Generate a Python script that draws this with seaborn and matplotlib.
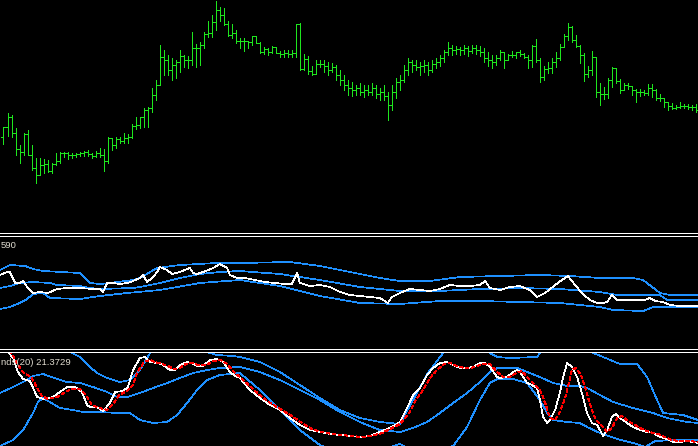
import numpy as np
import matplotlib.pyplot as plt
import seaborn as sns
from matplotlib.lines import Line2D

# Readings taken off the terminal window. Prices / indicator values are in
# chart points measured downward from the top of the window, so every pane
# uses an inverted y axis. x is the bar number (0 = oldest visible bar).

# --- price bars -----------------------------------------------------------
bar_open = [137, 127, 117, 133, 149, 152, 134, 155, 168, 175, 165, 164, 171, 164, 161, 153, 153, 155, 155, 154,
            153, 152, 154, 156, 153, 155, 161, 138, 145, 139, 141, 138, 137, 126, 125, 117, 110, 108, 95, 85,
            57, 60, 70, 65, 62, 56, 60, 60, 48, 48, 45, 34, 33, 22, 10, 15, 24, 35, 33, 41,
            41, 41, 42, 36, 43, 52, 49, 52, 47, 53, 54, 53, 54, 53, 24, 69, 59, 71, 74, 64,
            64, 66, 70, 67, 75, 80, 85, 88, 90, 88, 92, 90, 92, 88, 94, 92, 96, 105, 92, 82,
            80, 70, 62, 65, 67, 66, 65, 70, 64, 62, 58, 52, 48, 50, 49, 50, 48, 51, 48, 50,
            52, 58, 60, 62, 58, 52, 60, 55, 55, 52, 54, 57, 60, 46, 60, 77, 69, 68, 62, 58,
            47, 36, 27, 40, 46, 55, 74, 70, 57, 92, 94, 94, 80, 68, 81, 90, 85, 86, 90, 92,
            92, 93, 88, 90, 98, 98, 102, 106, 108, 107, 106, 106, 107, 107]
bar_high = [127, 113, 115, 128, 145, 133, 130, 145, 158, 158, 159, 160, 163, 153, 152, 152, 152, 153, 153, 152,
            151, 150, 153, 151, 148, 149, 137, 138, 137, 137, 133, 134, 124, 117, 117, 108, 107, 88, 80, 45,
            50, 55, 58, 60, 50, 55, 56, 32, 44, 42, 32, 21, 15, 1, 7, 8, 21, 24, 30, 38,
            38, 41, 36, 36, 42, 47, 48, 46, 47, 51, 50, 50, 50, 24, 23, 54, 56, 66, 60, 60,
            60, 62, 63, 65, 70, 75, 80, 82, 85, 83, 85, 85, 83, 85, 88, 85, 92, 85, 78, 75,
            65, 58, 60, 60, 62, 60, 62, 60, 58, 55, 50, 42, 45, 46, 47, 45, 46, 45, 45, 46,
            48, 52, 55, 55, 50, 52, 54, 51, 52, 50, 53, 55, 45, 39, 58, 66, 62, 58, 52, 44,
            34, 23, 26, 35, 45, 53, 66, 51, 57, 83, 87, 78, 67, 68, 79, 83, 83, 86, 89, 89,
            90, 84, 84, 89, 94, 98, 102, 103, 105, 102, 104, 104, 105, 104]
bar_low = [144, 136, 137, 155, 163, 155, 155, 170, 183, 175, 173, 172, 173, 165, 163, 157, 159, 158, 157, 156,
           156, 156, 158, 157, 157, 171, 163, 150, 148, 143, 143, 143, 138, 129, 128, 127, 127, 112, 100, 85,
           75, 75, 80, 78, 72, 67, 68, 65, 67, 65, 48, 37, 37, 30, 21, 25, 36, 38, 43, 48,
           51, 48, 45, 43, 53, 54, 55, 53, 53, 57, 57, 57, 57, 57, 70, 70, 74, 75, 74, 67,
           72, 75, 72, 80, 85, 90, 95, 96, 95, 95, 97, 95, 95, 98, 100, 100, 120, 110, 98, 90,
           82, 75, 72, 70, 75, 72, 75, 72, 68, 66, 62, 55, 55, 54, 55, 54, 56, 53, 54, 56,
           62, 66, 68, 65, 60, 68, 60, 57, 58, 56, 58, 68, 67, 62, 82, 80, 73, 73, 67, 60,
           47, 40, 42, 47, 63, 81, 77, 75, 97, 105, 99, 98, 87, 83, 93, 90, 89, 95, 102, 96,
           95, 95, 97, 100, 101, 107, 110, 109, 109, 108, 108, 109, 110, 112]
bar_close = [127, 117, 133, 149, 152, 134, 155, 168, 175, 165, 164, 171, 164, 161, 153, 153, 155, 155, 154, 153,
             152, 154, 156, 153, 155, 161, 138, 145, 139, 141, 138, 137, 126, 125, 117, 110, 108, 95, 85, 57,
             60, 70, 65, 62, 56, 60, 60, 48, 48, 45, 34, 33, 22, 10, 15, 24, 35, 33, 41, 41,
             41, 42, 36, 43, 52, 49, 52, 47, 53, 54, 53, 54, 53, 24, 69, 59, 71, 74, 64, 64,
             66, 70, 67, 75, 80, 85, 88, 90, 88, 92, 90, 92, 88, 94, 92, 96, 105, 92, 82, 80,
             70, 62, 65, 67, 66, 65, 70, 64, 62, 58, 52, 48, 50, 49, 50, 48, 51, 48, 50, 52,
             58, 60, 62, 58, 52, 60, 55, 55, 52, 54, 57, 60, 46, 60, 77, 69, 68, 62, 58, 47,
             36, 27, 40, 46, 55, 74, 70, 57, 92, 94, 94, 80, 68, 81, 90, 85, 86, 90, 92, 92,
             93, 88, 90, 98, 98, 102, 106, 108, 107, 106, 106, 107, 107, 110]

# --- middle pane: white line and its blue bands ------------------------------
mid_x = [-0.9, 0.9, 1.6, 2.9, 4.1, 4.9, 5.9, 7.4, 9.1, 11.1, 13.4, 15.9, 19.1, 22.4, 24.1, 24.9, 25.9, 27.4,
         29.1, 30.9, 32.4, 34.1, 34.9, 35.9, 37.4, 38.4, 39.1, 40.9, 42.1, 44.1, 46.6, 47.4, 48.4, 49.9,
         52.4, 54.1, 55.9, 56.6, 58.4, 60.4, 62.9, 65.4, 67.9, 70.4, 72.1, 73.4, 74.1, 76.6, 79.1, 81.6,
         84.1, 86.6, 89.1, 91.6, 94.1, 96.1, 97.1, 99.1, 101.6, 104.1, 106.6, 109.1, 111.6, 114.1, 116.6,
         119.1, 120.4, 121.6, 124.1, 126.6, 129.1, 131.6, 133.4, 135.4, 137.9, 139.6, 141.1, 142.9, 144.6,
         146.6, 148.4, 149.9, 150.9, 152.1, 153.4, 156.6, 160.4, 161.6, 162.9, 164.9, 166.6, 169.1, 173.6]
mid_line = [275, 272, 272, 283, 283, 281, 287, 293, 292, 293, 289, 288, 288, 289, 289, 292, 283, 283,
            284, 283, 281, 278, 275, 282, 277, 272, 267, 270, 274, 272, 268, 273, 274, 272,
            268, 264, 268, 275, 278, 278, 280, 282, 283, 284, 284, 273, 283, 286, 285, 287,
            292, 295, 296, 297, 298, 303, 297, 293, 289, 290, 291, 289, 285, 286, 286,
            285, 281, 288, 290, 287, 286, 290, 297, 293, 285, 280, 276, 285, 293,
            300, 303, 303, 302, 295, 300, 300, 300, 298, 301, 302, 305, 306, 306]

mid_up_x = [-0.9, 1.6, 5.4, 7.4, 9.9, 19.1, 21.6, 24.1, 26.6, 32.4, 34.1, 38.4, 44.1, 53.4, 59.1, 71.6,
            79.1, 86.6, 94.1, 99.1, 106.6, 114.1, 124.1, 134.1, 141.6, 149.1, 157.4, 159.9, 164.1, 166.6, 173.6]
mid_up = [270, 265, 266, 269, 271, 273, 283, 284, 283, 280, 278, 268, 265, 263, 263, 262,
          266, 272, 278, 281, 281, 277, 276, 275, 276, 278, 278, 280, 293, 295, 295]
mid_ma_x = [-0.9, 1.6, 4.1, 7.4, 11.6, 13.4, 19.1, 21.6, 24.1, 32.4, 34.1, 39.1, 44.1, 49.1, 54.1, 59.1,
            69.1, 79.1, 89.1, 99.1, 109.1, 119.1, 129.1, 139.1, 149.1, 153.4, 164.1, 165.9, 173.6]
mid_ma = [288, 286, 283, 282, 283, 285, 286, 288, 289, 288, 287, 283, 278, 274, 272, 271,
          274, 280, 287, 291, 291, 289, 288, 289, 292, 295, 295, 300, 300]
mid_lo_x = [-0.9, 1.6, 4.1, 5.9, 7.4, 9.9, 11.6, 19.1, 24.1, 30.9, 39.1, 49.1, 59.1, 69.1, 79.1, 89.1,
            99.1, 109.1, 119.1, 129.1, 139.1, 149.1, 152.4, 159.9, 162.4, 173.6]
mid_lo = [309, 307, 303, 299, 294, 293, 298, 299, 296, 293, 290, 283, 280, 286, 296, 303,
          304, 301, 301, 302, 303, 307, 310, 311, 307, 307]

# --- bottom pane: oscillator, signal and Bands(20) ---------------------------
osc_x = [-0.1, 1.1, 2.4, 3.6, 4.9, 6.6, 7.4, 8.4, 9.9, 12.4, 14.1, 15.9, 17.9, 19.6, 20.9, 21.6, 23.4,
         24.9, 26.6, 27.9, 29.9, 31.1, 32.4, 34.1, 35.4, 36.6, 38.4, 39.9, 41.6, 42.9, 44.1, 45.9,
         47.1, 48.4, 49.9, 51.6, 53.4, 54.9, 56.6, 57.9, 59.1, 61.6, 64.1, 66.6, 69.1, 71.6, 74.1,
         76.6, 79.1, 81.6, 84.1, 86.6, 89.1, 91.6, 94.1, 96.6, 97.9, 99.1, 100.9, 102.4, 104.1, 105.9,
         107.4, 109.1, 110.9, 112.4, 114.1, 115.9, 117.4, 119.1, 120.4, 121.6, 123.4, 124.1, 125.9,
         127.4, 128.4, 129.1, 130.9, 132.1, 133.4, 134.1, 134.9, 135.9, 136.6, 137.9, 139.1, 139.9,
         140.9, 142.1, 143.4, 144.6, 145.9, 147.1, 148.4, 149.1, 149.9, 150.9, 152.1, 153.1, 154.1,
         155.9, 157.4, 159.1, 160.9, 162.4, 164.1, 165.9, 167.4, 169.1, 170.9, 173.6]
osc = [345, 352, 358, 372, 379, 381, 388, 397, 399, 397, 392, 387, 387, 392, 405, 407, 407,
       411, 403, 392, 391, 387, 370, 358, 357, 362, 363, 365, 370, 370, 365, 362,
       363, 366, 366, 360, 359, 362, 372, 376, 378, 390, 398, 405, 410, 418, 425,
       430, 432, 434, 435, 436, 437, 436, 432, 428, 425, 422, 408, 395, 388, 375,
       368, 363, 362, 365, 368, 368, 367, 363, 363, 367, 377, 378, 377,
       372, 370, 372, 383, 385, 388, 400, 417, 423, 420, 410, 393, 377,
       363, 367, 377, 393, 413, 423, 425, 430, 436, 430, 417, 414, 418,
       423, 427, 430, 432, 433, 437, 439, 442, 442, 441, 443]

sig_x = [1.6, 3.6, 4.9, 7.1, 8.4, 9.6, 11.1, 13.4, 15.1, 16.9, 19.1, 20.6, 22.1, 24.1, 25.9, 27.4, 28.9,
         30.9, 32.4, 33.4, 35.1, 36.6, 37.9, 39.6, 41.1, 42.6, 44.1, 45.6, 47.1, 48.6, 50.6, 52.6,
         54.4, 55.9, 57.6, 59.1, 62.1, 64.6, 67.1, 69.6, 72.1, 74.6, 77.1, 79.6, 82.1, 84.6, 87.1,
         89.6, 92.1, 94.6, 97.1, 99.1, 101.6, 103.1, 104.9, 106.6, 108.4, 110.1, 111.6, 113.4, 115.1,
         116.9, 118.4, 120.1, 121.6, 123.4, 124.9, 126.6, 128.1, 129.6, 131.1, 132.9, 134.4, 135.6,
         136.6, 137.9, 139.1, 140.4, 141.4, 142.1, 143.1, 144.4, 145.6, 146.9, 148.1, 149.6, 150.9,
         152.1, 153.4, 154.6, 156.1, 157.9, 159.6, 161.6, 163.6, 165.4, 167.1, 169.1, 171.6, 173.6]
sig = [350, 365, 372, 378, 388, 396, 399, 397, 393, 389, 389, 395, 405, 408, 410, 404, 395,
       391, 385, 373, 362, 360, 362, 364, 366, 369, 368, 364, 363, 365, 365, 361,
       360, 364, 372, 377, 388, 397, 404, 410, 416, 423, 429, 432, 434, 435, 436,
       437, 436, 433, 428, 424, 412, 400, 390, 378, 370, 364, 363, 366, 368,
       368, 366, 364, 364, 372, 377, 377, 373, 371, 378, 385, 392, 405,
       418, 420, 412, 398, 382, 370, 368, 375, 390, 408, 420, 426, 432,
       428, 418, 416, 421, 425, 429, 432, 434, 437, 440, 441, 441, 442]

band_up_x = [-0.9, 9.1, 14.1, 16.6, 19.1, 21.6, 23.4, 25.9, 29.1, 31.6, 34.1, 35.9, 37.9, 44.1, 49.1,
             53.4, 57.4, 59.1, 64.1, 69.1, 74.1, 79.1, 84.1, 89.1, 94.1, 99.1, 102.4, 106.1, 109.9,
             114.1, 119.1, 121.6, 123.4, 126.6, 133.4, 135.4, 141.6, 147.4, 149.9, 154.1, 158.4,
             160.9, 163.4, 164.9, 169.9, 173.6]
band_up = [330, 340, 349, 352, 357, 367, 373, 378, 382, 380, 370, 358, 345, 340, 350,
           355, 356, 357, 362, 372, 385, 398, 410, 418, 422, 424, 400, 373, 353,
           340, 345, 353, 357, 358, 357, 345, 340, 353, 357, 364, 364,
           377, 400, 413, 415, 420]
band_mid_x = [-0.9, 2.4, 5.9, 7.4, 9.9, 13.4, 15.9, 19.1, 22.4, 25.9, 28.4, 30.9, 34.1, 37.4, 40.9,
              44.1, 47.4, 50.9, 54.1, 59.1, 64.1, 69.1, 74.1, 79.1, 84.1, 89.1, 94.1, 99.1, 102.4,
              105.9, 109.1, 112.4, 115.9, 119.1, 121.6, 123.4, 128.4, 130.9, 134.1, 137.4, 140.9,
              144.1, 145.9, 149.1, 152.4, 157.4, 162.4, 165.9, 170.9, 173.6]
band_mid = [393, 387, 380, 376, 374, 379, 382, 383, 387, 392, 397, 397, 393, 388, 383,
            378, 373, 370, 368, 367, 372, 380, 390, 400, 412, 422, 430, 432, 428,
            422, 413, 403, 393, 382, 372, 368, 368, 372, 377, 383, 386,
            386, 388, 395, 402, 408, 413, 418, 422, 423]
band_lo_x = [-0.9, 2.4, 4.9, 7.4, 8.6, 9.9, 14.1, 17.4, 19.9, 24.1, 28.4, 31.6, 34.1, 37.4, 40.9,
             43.4, 45.9, 48.4, 50.9, 54.1, 59.1, 64.1, 69.1, 74.1, 79.1, 84.1, 94.1, 99.1, 104.1,
             112.4, 115.9, 119.1, 121.6, 123.4, 127.4, 130.9, 134.1, 135.9, 137.4, 140.9, 144.1,
             145.9, 149.1, 153.4, 157.4, 160.4, 162.9, 168.4, 173.6]
band_lo = [446, 440, 430, 413, 402, 398, 408, 410, 412, 412, 413, 413, 420, 423, 422,
           415, 403, 390, 380, 375, 373, 390, 410, 430, 445, 452, 450, 444, 455,
           446, 427, 400, 383, 379, 379, 383, 400, 413, 420, 422, 423,
           427, 433, 439, 443, 447, 441, 440, 440]

mid_label = "590"
osc_label = "nds(20) 21.3729"

# --- style ------------------------------------------------------------------
sns.set_theme(style="dark", rc={"axes.facecolor": "black", "figure.facecolor": "black"})
plt.rcParams["font.family"] = ["Liberation Sans", "DejaVu Sans"]
plt.rcParams["lines.linewidth"] = 0.5
plt.rcParams["lines.antialiased"] = False

GREEN = "#1ee61e"
BLUE = "#1e90ff"
LW = 0.5

W, H = 698, 446
fig = plt.figure(figsize=(W / 100, H / 100), dpi=100)
fig.patch.set_facecolor("black")


def pane(top, bottom, ylim):
    ax = fig.add_axes([0, 1 - bottom / H, 1, (bottom - top) / H])
    ax.set_facecolor("black")
    ax.set_xlim(-0.875, 173.625)
    ax.set_ylim(*ylim)
    ax.set_axis_off()
    return ax


ax1 = pane(0, 232, (232, 0))
ax2 = pane(237, 348, (348, 237))
ax3 = pane(352, 446, (446, 352))

# OHLC bars
idx = np.arange(len(bar_close))
ax1.vlines(idx, bar_high, bar_low, colors=GREEN, lw=LW, antialiased=False)
ax1.hlines(bar_open, idx - 0.5, idx, colors=GREEN, lw=LW, antialiased=False)
ax1.hlines(bar_close, idx, idx + 0.5, colors=GREEN, lw=LW, antialiased=False)

# middle pane
for xs, ys in [(mid_up_x, mid_up), (mid_ma_x, mid_ma), (mid_lo_x, mid_lo)]:
    sns.lineplot(x=xs, y=ys, ax=ax2, color=BLUE, linewidth=LW, sort=False, estimator=None)
sns.lineplot(x=mid_x, y=mid_line, ax=ax2, color="white", linewidth=LW, sort=False, estimator=None)

# bottom pane
for xs, ys in [(band_up_x, band_up), (band_mid_x, band_mid), (band_lo_x, band_lo)]:
    sns.lineplot(x=xs, y=ys, ax=ax3, color=BLUE, linewidth=LW, sort=False, estimator=None)
sns.lineplot(x=osc_x, y=osc, ax=ax3, color="white", linewidth=LW, sort=False, estimator=None)
sns.lineplot(x=sig_x, y=sig, ax=ax3, color="red", linewidth=LW, sort=False, estimator=None,
             linestyle=(0, (5, 3)))

for a in (ax1, ax2, ax3):
    if a.get_legend():
        a.get_legend().remove()
    for ln in a.get_lines():
        ln.set_antialiased(False)
        ln.set_linewidth(LW)

# pane separators
for y in (233, 235.5, 349, 351.5):
    fig.add_artist(Line2D([0, 1], [1 - y / H] * 2, transform=fig.transFigure,
                          color="white", lw=LW, antialiased=False))

fig.text(1 / W, 1 - 248 / H, mid_label, color="#e0dcd0", fontsize=6.8, va="baseline")
fig.text(1 / W, 1 - 365 / H, osc_label, color="#e0dcd0", fontsize=6.8, va="baseline")

plt.savefig("out.png", dpi=100, facecolor="black")
